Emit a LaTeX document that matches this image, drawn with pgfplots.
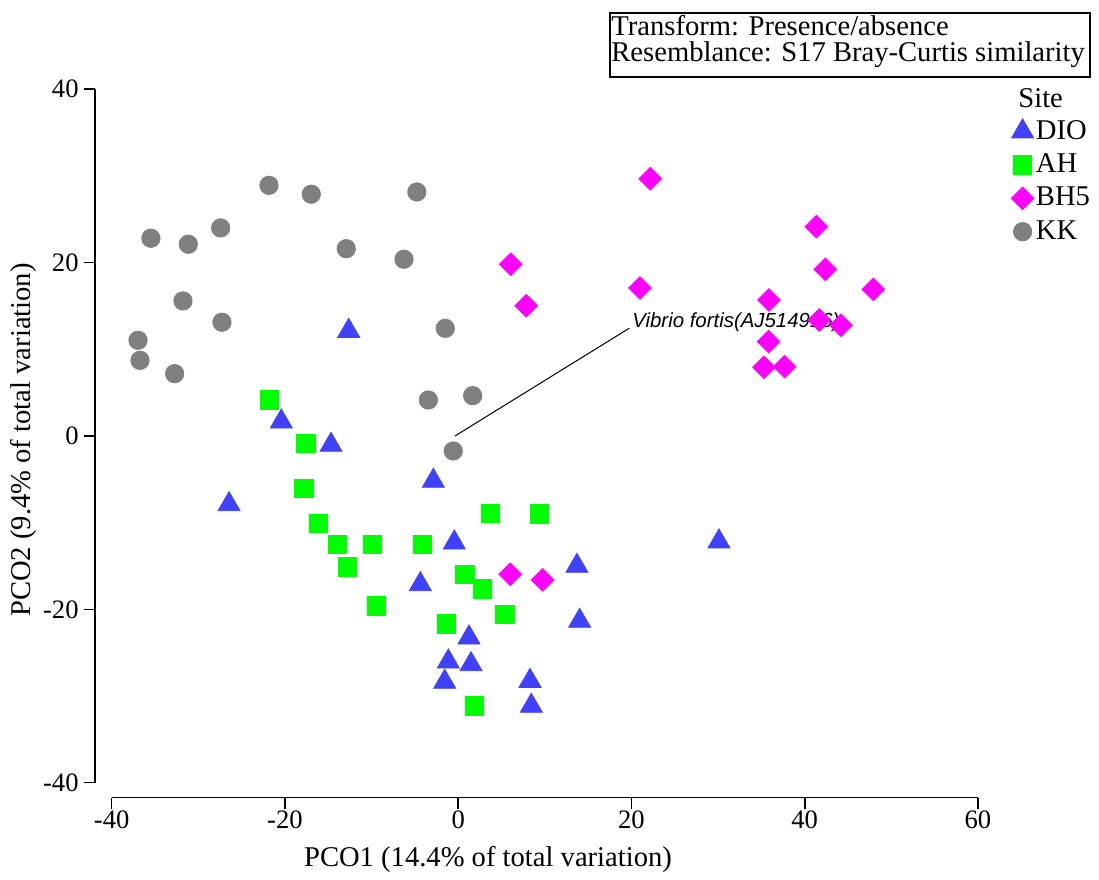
\documentclass[border=0pt]{standalone}
\usepackage{fontspec}
\setmainfont{Liberation Serif}
\newfontfamily\arialfont{Liberation Sans}
\usepackage{pgfplots}
\pgfplotsset{compat=1.18}

\definecolor{dio}{RGB}{64,64,255}
\definecolor{ah}{RGB}{0,255,0}
\definecolor{bhf}{RGB}{255,0,255}
\definecolor{kk}{RGB}{128,128,128}

\newcommand{\tickfont}{\fontsize{13.3}{12.5}\selectfont}
\newcommand{\bigfont}{\fontsize{14.3}{13}\selectfont}

\begin{document}
\begin{tikzpicture}
\begin{axis}[
    scale only axis,
    width=433.15pt, height=346.7pt,
    xmin=-40, xmax=60, ymin=-40, ymax=40,
    axis x line*=bottom, axis y line*=left,
    axis x line shift=7.5pt, axis y line shift=8.35pt,
    axis line style={-, line width=0.8pt},
    tick align=outside, major tick length=5.5pt,
    tick style={line width=0.8pt, black},
    xtick={-40,-20,0,20,40,60}, xticklabels={-40,-20,0,20,40,60},
    ytick={-40,-20,0,20,40}, yticklabels={-40,-20,0,20,40},
    xticklabel style={font=\tickfont, inner sep=1pt},
    yticklabel style={font=\tickfont, inner sep=2.5pt},
    clip=false,
    legend style={at={(1.038,0.962)}, anchor=north west, draw=none, fill=none,
        inner sep=0pt, row sep=1.2pt, font=\bigfont,
        nodes={inner sep=1pt, text height=10.5pt, text depth=3pt}},
    legend cell align=left,
    legend image code/.code={\draw[mark repeat=2,mark phase=2,#1] plot coordinates {(0pt,0pt) (6pt,0pt) (12pt,0pt)};},
]
% DIO
\addplot[only marks, mark=triangle*, mark size=6.35pt, color=dio] coordinates {
(-12.64,12.11) (-20.42,1.65) (-14.68,-1.04) (-26.45,-7.89) (-2.87,-5.19)
(-0.45,-12.31) (-4.37,-17.12) (13.71,-15.0) (14.02,-21.34) (1.25,-23.27)
(-1.14,-26.04) (1.48,-26.35) (-1.56,-28.38) (8.29,-28.27) (8.44,-31.15)
(30.1,-12.19)
};
\addlegendentry{DIO}
% AH
\addplot[only marks, mark=square*, mark size=4.6pt, color=ah] coordinates {
(-21.76,4.15) (-17.57,-0.88) (-17.80,-6.04) (-16.15,-10.07) (-13.91,-12.50)
(-9.87,-12.54) (-12.76,-15.11) (-4.14,-12.50) (-9.45,-19.61) (3.75,-8.92)
(9.37,-9.00) (0.78,-15.96) (2.78,-17.65) (5.40,-20.61) (-1.37,-21.69)
(1.86,-31.15)
};
\addlegendentry{AH}
% BH5
\addplot[only marks, mark=square*, mark size=4.0pt, mark options={rotate=45}, color=bhf] coordinates {
(22.17,29.69) (6.06,19.81) (7.86,15.03) (20.99,17.08) (41.34,24.15)
(42.38,19.23) (47.92,16.92) (35.88,15.69) (41.68,13.38) (44.19,12.77)
(35.84,10.88) (35.30,7.92) (37.69,8.00) (6.01,-15.96) (9.75,-16.61)
};
\addlegendentry{BH5}
% KK
\addplot[only marks, mark=*, mark size=4.6pt, color=kk] coordinates {
(-21.84,28.92) (-16.96,27.89) (-35.47,22.81) (-31.15,22.12) (-27.42,24.00)
(-12.92,21.61) (-6.26,20.39) (-4.77,28.15) (-31.77,15.58) (-27.27,13.12)
(-36.96,11.04) (-36.73,8.73) (-32.73,7.19) (-1.49,12.42) (-3.45,4.15)
(1.67,4.65) (-0.57,-1.73)
};
\addlegendentry{KK}

% vector label
\draw[line width=0.5pt] (axis cs:-0.37,0) -- (axis cs:19.75,12.43);
\node[anchor=base west, inner sep=0pt, font=\arialfont\itshape\fontsize{10.2}{12}\selectfont]
    at (axis cs:20.06,12.46) {Vibrio fortis(AJ514916)};

% legend title
\node[anchor=base west, inner sep=0pt, font=\bigfont] at (axis cs:64.62,37.92) {Site};

% info box
\draw[line width=0.6pt] (axis cs:17.52,48.80) rectangle (axis cs:72.93,41.42);
\node[anchor=north west, inner sep=0pt, align=left, font=\bigfont]
    at (axis cs:17.64,48.62) {Transform: Presence/absence\\Resemblance: S17 Bray-Curtis similarity};

% axis labels
\node[font=\bigfont] at (axis cs:3.44,-48.85) {PCO1 (14.4\% of total variation)};
\node[font=\bigfont, rotate=90] at (axis cs:-50.2,-0.46) {PCO2 (9.4\% of total variation)};

% page frame
\path (axis cs:-52.89,50.30) rectangle (axis cs:73.97,-50.65);
\end{axis}
\end{tikzpicture}
\end{document}
